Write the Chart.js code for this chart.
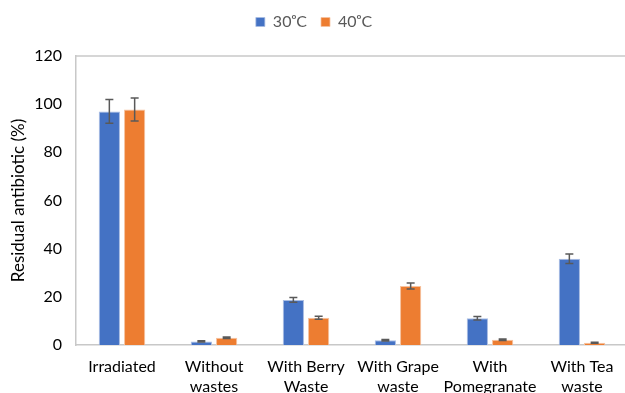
<!DOCTYPE html>
<html>
<head>
<meta charset="utf-8">
<script src="https://cdn.jsdelivr.net/npm/chart.js@4/dist/chart.umd.min.js"></script>
<style>
  html, body { margin: 0; padding: 0; background: #fff; overflow: hidden; }
  #wrap { position: absolute; left: 0; top: 0; width: 628px; height: 425px; }
</style>
</head>
<body>
<div id="wrap"><canvas id="c" width="628" height="425"></canvas></div>
<script>
// Residual antibiotic after treatment, by additive and temperature
const categories = [
  'Irradiated',
  ['Without', 'wastes'],
  ['With Berry', 'Waste'],
  ['With Grape', 'waste'],
  ['With', 'Pomegranate', 'waste'],
  ['With Tea', 'waste']
];
const seriesNames = ['30\u1D52C', '40\u1D52C'];
const values30 = [97.0, 1.5, 18.7, 2.0, 11.1, 35.8];
const values40 = [97.8, 3.0, 11.3, 24.5, 2.2, 0.9];
const errors30 = [4.9, 0.3, 1.0, 0.3, 0.7, 2.0];
const errors40 = [4.8, 0.3, 0.6, 1.2, 0.3, 0.2];
const yTicks = [0, 20, 40, 60, 80, 100, 120];

const FONT = 'Lato, "Open Sans", sans-serif';
const TEXT = '#595959';

// Extra room between the legend row and the plot
const legendGap = {
  id: 'legendGap',
  beforeInit(chart) {
    const fit = chart.legend.fit;
    chart.legend.fit = function () {
      fit.bind(chart.legend)();
      this.height += 16;
    };
  }
};

// Draws ± error whiskers on each bar and the frame line along the top of the plot
const errorBars = {
  id: 'errorBars',
  afterDatasetsDraw(chart) {
    const ctx = chart.ctx;
    const y = chart.scales.y;
    const errs = [errors30, errors40];
    ctx.save();
    ctx.strokeStyle = '#595959';
    ctx.lineWidth = 1.5;
    chart.data.datasets.forEach((ds, di) => {
      const meta = chart.getDatasetMeta(di);
      meta.data.forEach((bar, i) => {
        const v = ds.data[i], e = errs[di][i];
        const top = y.getPixelForValue(v + e);
        const bot = y.getPixelForValue(v - e);
        const x = bar.x;
        ctx.beginPath();
        ctx.moveTo(x, top); ctx.lineTo(x, bot);
        ctx.moveTo(x - 4, top); ctx.lineTo(x + 4, top);
        ctx.moveTo(x - 4, bot); ctx.lineTo(x + 4, bot);
        ctx.stroke();
      });
    });
    const a = chart.chartArea;
    ctx.strokeStyle = '#c8c8c8';
    ctx.lineWidth = 1.5;
    ctx.beginPath();
    ctx.moveTo(a.left, a.top); ctx.lineTo(a.right + 5, a.top);
    ctx.stroke();
    ctx.restore();
  }
};

new Chart(document.getElementById('c'), {
  type: 'bar',
  data: {
    labels: categories,
    datasets: [
      { label: seriesNames[0], data: values30, backgroundColor: '#4472C4',
        borderColor: '#a9bde3', borderWidth: { left: 1, right: 1, top: 1, bottom: 0 },
        categoryPercentage: 0.55, barPercentage: 0.84 },
      { label: seriesNames[1], data: values40, backgroundColor: '#ED7D31',
        borderColor: '#f6c3a0', borderWidth: { left: 1, right: 1, top: 1, bottom: 0 },
        categoryPercentage: 0.55, barPercentage: 0.84 }
    ]
  },
  options: {
    responsive: false,
    animation: false,
    layout: { padding: { left: 0, right: 0, top: 0, bottom: 0 } },
    plugins: {
      legend: {
        position: 'top',
        labels: {
          boxWidth: 9, boxHeight: 9, padding: 14,
          color: TEXT, font: { family: FONT, size: 16 }
        }
      },
      tooltip: { enabled: false }
    },
    scales: {
      x: {
        grid: { display: false, drawTicks: false },
        border: { display: true, color: '#c8c8c8', width: 1.5 },
        ticks: { color: '#000', font: { family: FONT, size: 16, lineHeight: 1.3 },
                 padding: 11, maxRotation: 0, autoSkip: false },
        afterFit(s) { s.height = 80; }
      },
      y: {
        min: 0, max: 120,
        afterBuildTicks(s) { s.ticks = yTicks.map(v => ({ value: v })); },
        grid: { display: false, drawTicks: false },
        border: { display: true, color: '#c8c8c8', width: 1.5 },
        ticks: { color: '#000', font: { family: FONT, size: 16 }, padding: 14 },
        title: { display: true, text: 'Residual antibiotic (%)', color: '#000',
                 font: { family: FONT, size: 17 }, padding: { top: 8, bottom: 4 } },
        afterFit(s) { s.width = 76; }
      }
    }
  },
  plugins: [legendGap, errorBars]
});
</script>
</body>
</html>
